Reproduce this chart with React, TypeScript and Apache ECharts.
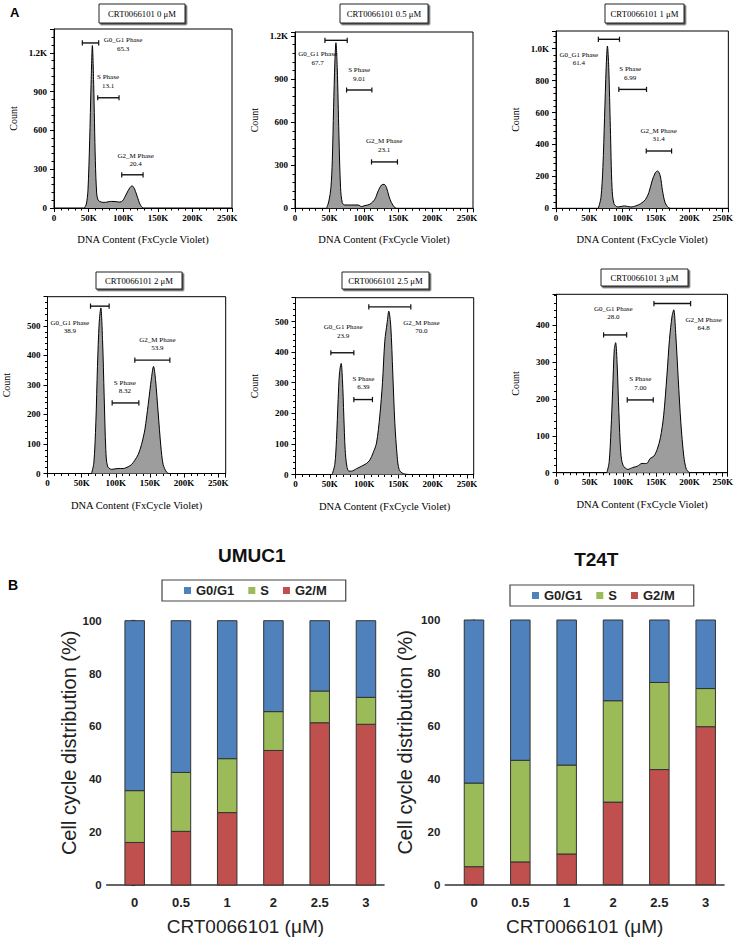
import React, { useEffect, useRef } from 'react';
import * as echarts from 'echarts';

// ---------- DATA ----------
const panelTitles = ['CRT0066101 0 μM', 'CRT0066101 0.5 μM', 'CRT0066101 1 μM', 'CRT0066101 2 μM', 'CRT0066101 2.5 μM', 'CRT0066101 3 μM'];

// histogram curves: [DNA content (K), count]
const hist0uM = [[44, 0], [46.7, 31], [49, 134], [51.5, 519], [53.5, 956], [55.4, 1257], [57.3, 956], [59.7, 365], [61.7, 108], [63.6, 62], [66, 51], [70, 44], [74.7, 44], [78, 48], [82.9, 51], [88, 50], [95, 46], [99, 55], [102, 82], [107, 134], [110, 160], [112.7, 172], [116, 150], [119, 108], [122, 60], [124, 31], [126.5, 10], [128.6, 0]];
const hist05uM = [[45.9, 0], [49.3, 51], [52.2, 144], [54.2, 330], [56.1, 701], [58, 1026], [59.5, 1153], [61.4, 979], [63.8, 515], [66.2, 144], [68.7, 39], [72.5, 23], [82.2, 23], [91.9, 23], [96.7, 12], [101.5, 19], [108.8, 28], [116, 63], [120.9, 121], [125.7, 162], [129.6, 167], [133, 144], [136.4, 86], [140.2, 39], [145, 5], [147.5, 0]];
const hist1uM = [[63.5, 0], [67.4, 67], [70.3, 255], [72.8, 568], [75.2, 881], [77.1, 1017], [79.1, 881], [81.5, 505], [84, 129], [86.9, 29], [92.8, 8], [102.5, 15], [112.3, 8], [119.6, 15], [127, 29], [134.3, 56], [139.2, 98], [144, 171], [148.9, 223], [152.3, 234], [156.3, 203], [159.7, 109], [163.6, 35], [168.5, 4], [170.9, 0]];
const hist2uM = [[64.5, 0], [67.9, 36], [70.8, 172], [73.2, 363], [75.7, 510], [78.1, 561], [80.6, 454], [83, 262], [85.4, 81], [87.9, 25], [93.8, 14], [103.5, 17], [110.8, 17], [118.2, 23], [123, 30], [127.9, 45], [132.8, 64], [137.7, 98], [142.6, 149], [147.5, 234], [152.3, 324], [155.3, 363], [158.2, 318], [162.1, 205], [166, 93], [169.4, 30], [174.3, 5], [177.7, 0]];
const hist25uM = [[53.4, 0], [57.3, 33], [59.7, 114], [62.1, 245], [64.1, 332], [66.5, 363], [68.4, 310], [70.4, 191], [72.3, 82], [74.8, 27], [77.7, 11], [81.6, 11], [88.8, 19], [96.1, 27], [103.4, 36], [108.3, 47], [113.1, 71], [118, 103], [122.8, 191], [126.7, 300], [130.1, 436], [133.5, 496], [135.9, 534], [138.8, 485], [141.7, 332], [144.7, 169], [148.1, 60], [151, 16], [156.8, 3], [166.5, 0]];
const hist3uM = [[75.7, 0], [79.1, 27], [82, 117], [84.5, 226], [86.9, 334], [88.9, 352], [91.3, 289], [93.8, 163], [96.7, 54], [100.1, 20], [107.4, 9], [114.7, 14], [122, 18], [128.4, 25], [135.7, 25], [140.6, 38], [146.5, 45], [151.4, 63], [156.3, 95], [161.1, 154], [166, 262], [169.9, 361], [173.8, 424], [176.3, 441], [179.2, 379], [183.1, 253], [187, 135], [191.4, 45], [195.3, 9], [200.2, 0]];

const gateNames = ['G0_G1 Phase', 'S Phase', 'G2_M Phase'];
const gatePct0uM = ['65.3', '13.1', '20.4'];
const gatePct05uM = ['67.7', '9.01', '23.1'];
const gatePct1uM = ['61.4', '6.99', '31.4'];
const gatePct2uM = ['38.9', '8.32', '53.9'];
const gatePct25uM = ['23.9', '6.39', '70.0'];
const gatePct3uM = ['28.0', '7.00', '64.8'];

// gate ranges (K)
const gateRange0uM = [[40.9, 64.5], [63.1, 93.9], [97.8, 128.6]];
const gateRange05uM = [[43.5, 75.9], [75, 111.7], [111.2, 148.9]];
const gateRange1uM = [[63.5, 95.2], [94.2, 135.7], [135.3, 173.3]];
const gateRange2uM = [[63, 90.3], [94.7, 133.8], [127.9, 179.2]];
const gateRange25uM = [[51.5, 85], [85, 112.1], [106.8, 168]];
const gateRange3uM = [[70.8, 105.5], [106.4, 145.5], [146.5, 201.7]];

const yTickStep = [300, 300, 200, 100, 100, 100];

// bar charts (percent)
const doses = ['0', '0.5', '1', '2', '2.5', '3'];
const umucG2M = [16.1, 20.3, 27.4, 50.9, 61.4, 60.8];
const umucS = [19.6, 22.3, 20.4, 14.7, 12.0, 10.2];
const umucG1 = [64.3, 57.4, 52.2, 34.4, 26.6, 29.0];
const t24G2M = [6.8, 8.6, 11.6, 31.2, 43.5, 59.7];
const t24S = [31.6, 38.4, 33.6, 38.3, 32.9, 14.4];
const t24G1 = [61.6, 53.0, 54.8, 30.5, 23.6, 25.9];
const phaseNames = ['G0/G1', 'S', 'G2/M'];

// ---------- LAYOUT ----------
// gate bracket y (count), label x (K), label y (count)
const gatePos = [
  [[1277, 99.7, 1264], [853, 78, 978], [257, 118, 371]],
  [[1170, 32.9, 1043], [824, 93.3, 933], [323, 129.6, 437]],
  [[1059, 34.2, 936], [745, 111.3, 845], [359, 153.8, 458]],
  [[567, 32.7, 497], [239, 113.3, 293], [384, 161.1, 439]],
  [[398, 69.4, 468], [245, 99, 299], [548, 183.5, 483]],
  [[373, 85.4, 433], [197, 126, 242], [458, 221.2, 403]],
];
const histGrid = [
  { left: 54, top: 29, width: 178, height: 179, xMax: 257, yMax: 1385 },
  { left: 295, top: 32, width: 178, height: 176.3, xMax: 258.7, yMax: 1228 },
  { left: 556, top: 31, width: 176, height: 177.3, xMax: 258.4, yMax: 1111 },
  { left: 47.5, top: 296.7, width: 178.2, height: 176.8, xMax: 261, yMax: 599 },
  { left: 295.5, top: 297.7, width: 178.2, height: 176.8, xMax: 259.6, yMax: 578 },
  { left: 556.5, top: 294.3, width: 175.5, height: 178.4, xMax: 257.2, yMax: 483 },
];
const titleBoxes = [
  [99, 4, 86, 19], [340, 4, 88, 19], [605, 4, 79, 19],
  [96, 272, 86, 17], [342, 272, 87, 17], [601, 269, 87, 17],
];

const histData = [hist0uM, hist05uM, hist1uM, hist2uM, hist25uM, hist3uM];
const gatePcts = [gatePct0uM, gatePct05uM, gatePct1uM, gatePct2uM, gatePct25uM, gatePct3uM];
const gateRanges = [gateRange0uM, gateRange05uM, gateRange1uM, gateRange2uM, gateRange25uM, gateRange3uM];

const BLUE = '#4f81bd';
const GREEN = '#9bbb59';
const RED = '#c0504d';
const SERIF = '"Liberation Serif", "DejaVu Serif", serif';
const SANS = '"Liberation Sans", Arial, sans-serif';

function fmtCount(step: number) {
  return (v: number) => {
    if (Math.abs(v % step) > 1e-6) return '';
    if (v >= 1000) return (v / 1000).toFixed(1) + 'K';
    return String(v);
  };
}

function buildOption() {
  const grid: any[] = [];
  const xAxis: any[] = [];
  const yAxis: any[] = [];
  const series: any[] = [];
  const graphic: any[] = [];

  histGrid.forEach((g, i) => {
    grid.push({ left: g.left, top: g.top, width: g.width, height: g.height, show: true, borderColor: '#000', borderWidth: 1, backgroundColor: '#fff', containLabel: false });
    xAxis.push({
      gridIndex: i, type: 'value', min: 0, max: g.xMax, interval: 50,
      axisLine: { show: true, onZero: false, lineStyle: { color: '#000', width: 1 } },
      axisTick: { show: true, length: 4, lineStyle: { color: '#000', width: 1 } },
      minorTick: { show: true, splitNumber: 5, length: 2.5, lineStyle: { color: '#000', width: 1 } },
      splitLine: { show: false },
      axisLabel: {
        margin: 5, color: '#000', fontFamily: SERIF, fontWeight: 'bold', fontSize: 9,
        formatter: (v: number) => (Math.abs(v % 50) > 1e-6 || v > 250 ? '' : v === 0 ? '0' : v + 'K'),
      },
      name: 'DNA Content (FxCycle Violet)', nameLocation: 'middle', nameGap: 26,
      nameTextStyle: { fontFamily: SERIF, fontSize: 10.5, color: '#000' },
    });
    yAxis.push({
      gridIndex: i, type: 'value', min: 0, max: g.yMax, interval: yTickStep[i],
      axisLine: { show: true, onZero: false, lineStyle: { color: '#000', width: 1 } },
      axisTick: { show: true, length: 4, lineStyle: { color: '#000', width: 1 } },
      minorTick: { show: true, splitNumber: 5, length: 2.5, lineStyle: { color: '#000', width: 1 } },
      splitLine: { show: false },
      axisLabel: { margin: 7, color: '#000', fontFamily: SERIF, fontWeight: 'bold', fontSize: 9, formatter: fmtCount(yTickStep[i]) },
      name: 'Count', nameLocation: 'middle', nameGap: 36,
      nameTextStyle: { fontFamily: SERIF, fontSize: 10, color: '#000' },
    });
    series.push({
      type: 'line', name: 'hist' + i, xAxisIndex: i, yAxisIndex: i, data: histData[i],
      showSymbol: false, symbol: 'none', smooth: 0.3,
      lineStyle: { color: '#000', width: 1 },
      itemStyle: { color: '#000' },
      areaStyle: { color: '#9d9d9d', opacity: 1 },
      z: 2,
    });
    const ranges = gateRanges[i];
    const pos = gatePos[i];
    const pcts = gatePcts[i];
    series.push({
      type: 'custom', name: 'gates' + i, xAxisIndex: i, yAxisIndex: i, clip: false, z: 5,
      itemStyle: { color: '#000' },
      data: ranges.map((r, k) => [r[0], pos[k][0], r[1], pos[k][1], pos[k][2]]),
      encode: { x: [0, 2, 3], y: [1, 4] },
      renderItem: (params: any, api: any) => {
        const k = params.dataIndex;
        const a = api.coord([ranges[k][0], pos[k][0]]);
        const b = api.coord([ranges[k][1], pos[k][0]]);
        const t = api.coord([pos[k][1], pos[k][2]]);
        return {
          type: 'group',
          children: [
            { type: 'line', shape: { x1: a[0], y1: a[1], x2: b[0], y2: b[1] }, style: { stroke: '#111', lineWidth: 1.4 } },
            { type: 'line', shape: { x1: a[0], y1: a[1] - 2.6, x2: a[0], y2: a[1] + 2.6 }, style: { stroke: '#111', lineWidth: 1.2 } },
            { type: 'line', shape: { x1: b[0], y1: b[1] - 2.6, x2: b[0], y2: b[1] + 2.6 }, style: { stroke: '#111', lineWidth: 1.2 } },
            {
              type: 'text', x: t[0], y: t[1],
              style: { text: gateNames[k] + '\n' + pcts[k], fill: '#000', stroke: 'none', lineWidth: 0, fontFamily: SERIF, fontSize: 7, align: 'center', verticalAlign: 'middle', lineHeight: 8.5 },
            },
          ],
        };
      },
    });
    const tb = titleBoxes[i];
    graphic.push({
      type: 'rect', shape: { x: tb[0], y: tb[1], width: tb[2], height: tb[3] },
      style: { fill: '#fff', stroke: '#222', lineWidth: 1, shadowColor: 'rgba(0,0,0,0.7)', shadowOffsetX: 1.5, shadowOffsetY: 1.5, shadowBlur: 0 },
    });
    graphic.push({
      type: 'text', x: tb[0] + tb[2] / 2, y: tb[1] + tb[3] / 2,
      style: { text: panelTitles[i], fill: '#000', fontFamily: SERIF, fontSize: 8.7, align: 'center', verticalAlign: 'middle' },
    });
  });

  // stacked bar charts (drawn as custom rects through the axes' scales)
  const barGrids = [
    { left: 106.7, top: 620.7, width: 277.3, height: 264.3, min: -0.605, max: 5.39, gap: 28, legendLeft: 162, legendTop: 580 },
    { left: 445.3, top: 620, width: 278.7, height: 264.7, min: -0.619, max: 5.395, gap: 30, legendLeft: 510, legendTop: 585 },
  ];
  const barSets = [
    [umucG1, umucS, umucG2M],
    [t24G1, t24S, t24G2M],
  ];
  const colors = [BLUE, GREEN, RED];
  const legends: any[] = [];
  barGrids.forEach((bg, j) => {
    const gi = 6 + j;
    grid.push({ left: bg.left, top: bg.top, width: bg.width, height: bg.height, show: false });
    xAxis.push({
      gridIndex: gi, type: 'value', min: bg.min, max: bg.max,
      axisLine: { show: true, onZero: false, lineStyle: { color: '#333', width: 1.6 } },
      axisTick: { show: false },
      splitLine: { show: false },
      axisLabel: {
        customValues: doses.map((_, k) => k), margin: 11, color: '#222', fontFamily: SANS, fontWeight: 'bold', fontSize: 13,
        formatter: (v: number) => doses[Math.round(v)] ?? '',
      },
      name: 'CRT0066101 (μM)', nameLocation: 'middle', nameGap: 32,
      nameTextStyle: { fontFamily: SANS, fontSize: 19, color: '#222' },
    });
    yAxis.push({
      gridIndex: gi, type: 'value', min: 0, max: 100, interval: 20,
      axisLine: { show: true, lineStyle: { color: '#333', width: 1.6 } },
      axisTick: { show: true, length: 3, lineStyle: { color: '#333', width: 1.2 } },
      splitLine: { show: false },
      axisLabel: { margin: 5, color: '#222', fontFamily: SANS, fontWeight: 'bold', fontSize: 11.5 },
      name: 'Cell cycle distribution (%)', nameLocation: 'middle', nameGap: bg.gap,
      nameTextStyle: { fontFamily: SANS, fontSize: 20, color: '#222', padding: [0, 0, 0, 20] },
    });
    const sets = barSets[j];
    // stack bottom to top: G2/M, S, G0/G1
    const order = [2, 1, 0];
    const lower = doses.map(() => 0);
    order.forEach((p) => {
      const vals = sets[p];
      const segs = vals.map((v, k) => [k, lower[k], lower[k] + v]);
      vals.forEach((v, k) => { lower[k] += v; });
      const color = colors[p];
      series.push({
        type: 'custom', name: phaseNames[p], xAxisIndex: gi, yAxisIndex: gi,
        data: segs, encode: { x: 0, y: [1, 2] },
        itemStyle: { color },
        renderItem: (params: any, api: any) => {
          const k = api.value(0);
          const top = api.coord([k, api.value(2)]);
          const bot = api.coord([k, api.value(1)]);
          const w = 19.5;
          return {
            type: 'rect',
            shape: { x: top[0] - w / 2, y: top[1], width: w, height: bot[1] - top[1] },
            style: { fill: color, stroke: '#333', lineWidth: 1 },
          };
        },
      });
    });
    legends.push({
      data: phaseNames, left: bg.legendLeft, top: bg.legendTop, orient: 'horizontal',
      icon: 'rect', itemWidth: 7, itemHeight: 7, itemGap: 14,
      padding: [4, 19, 4, 22], borderColor: '#444', borderWidth: 1.2, backgroundColor: '#fff',
      selectedMode: false, itemStyle: { borderWidth: 0 },
      textStyle: { fontFamily: SANS, fontWeight: 'bold', fontSize: 13, color: '#222' },
    });
  });

  graphic.push({ type: 'text', x: 10, y: 6, style: { text: 'A', fill: '#000', fontFamily: SANS, fontWeight: 'bold', fontSize: 13 } });
  graphic.push({ type: 'text', x: 8, y: 578, style: { text: 'B', fill: '#000', fontFamily: SANS, fontWeight: 'bold', fontSize: 14 } });
  graphic.push({ type: 'text', x: 251.7, y: 555, style: { text: 'UMUC1', fill: '#111', fontFamily: SANS, fontWeight: 'bold', fontSize: 19, align: 'center', verticalAlign: 'middle' } });
  graphic.push({ type: 'text', x: 596.3, y: 559, style: { text: 'T24T', fill: '#111', fontFamily: SANS, fontWeight: 'bold', fontSize: 19, align: 'center', verticalAlign: 'middle' } });

  return {
    animation: false,
    backgroundColor: '#fff',
    grid, xAxis, yAxis, series, legend: legends, graphic,
  };
}

export default function App() {
  const ref = useRef<HTMLDivElement>(null);
  useEffect(() => {
    document.body.style.margin = '0';
    if (!ref.current) return;
    const chart = echarts.init(ref.current, undefined, { renderer: 'svg' });
    chart.setOption(buildOption() as any);
    return () => chart.dispose();
  }, []);
  return <div ref={ref} style={{ width: 736, height: 940 }} />;
}
